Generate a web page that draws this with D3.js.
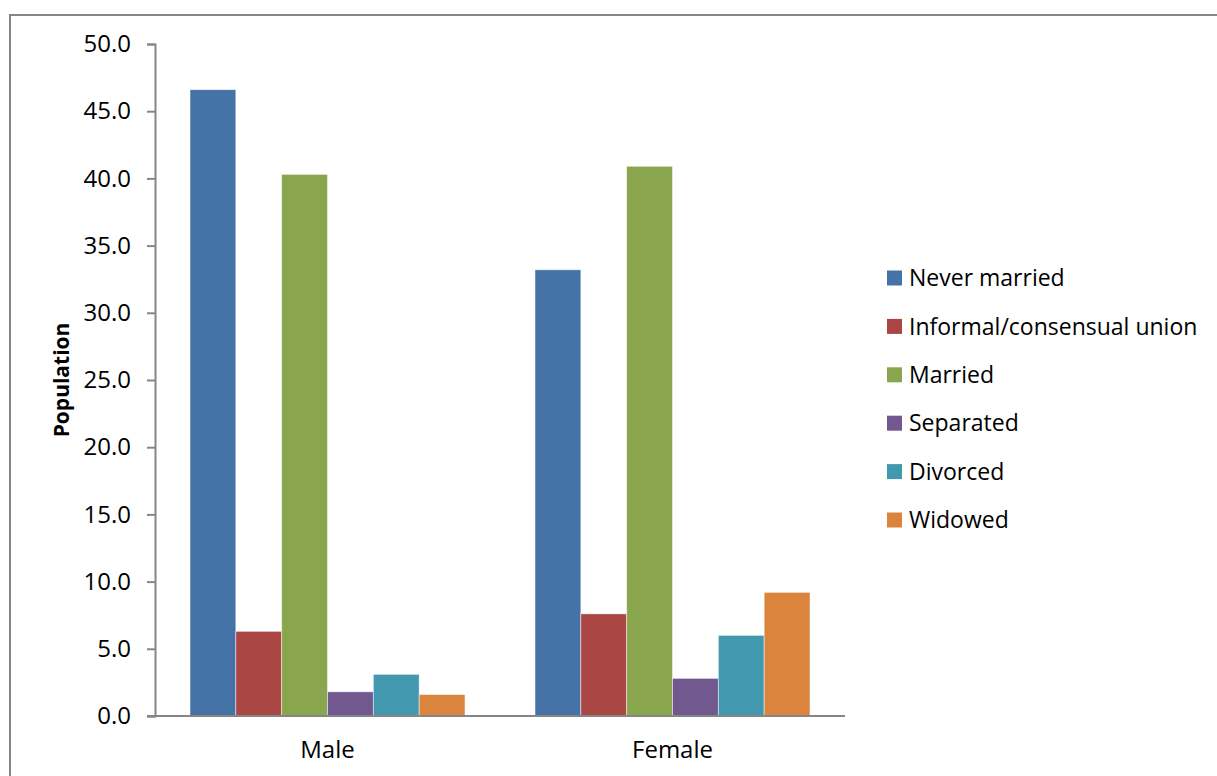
<!DOCTYPE html>
<html>
<head>
<meta charset="utf-8">
<script src="https://cdn.jsdelivr.net/npm/d3@7"></script>
<style>
  body { margin: 0; background: #fff; }
  text { font-family: "Open Sans", sans-serif; fill: #000; }
</style>
</head>
<body>
<script>
var categories = ["Male", "Female"];
var series = ["Never married", "Informal/consensual union", "Married", "Separated", "Divorced", "Widowed"];
var maleValues = [46.6, 6.3, 40.3, 1.8, 3.1, 1.6];
var femaleValues = [33.2, 7.6, 40.9, 2.8, 6.0, 9.2];
var yTicks = [0, 5, 10, 15, 20, 25, 30, 35, 40, 45, 50];
var colors = ["#4572A7", "#AA4643", "#89A54E", "#71588F", "#4198AF", "#DB843D"];

var values = [maleValues, femaleValues];

var width = 1217, height = 776;
var margin = {top: 44, left: 155, bottom: 60, right: 372};
var plot_w = width - margin.left - margin.right,
    plot_h = 716 - margin.top;

var svg = d3.select("body").append("svg")
    .attr("width", width)
    .attr("height", height);

// outer chart frame (runs off right/bottom of the image)
svg.append("rect")
    .attr("x", 10).attr("y", 15)
    .attr("width", 1300).attr("height", 900)
    .attr("fill", "none")
    .attr("stroke", "#868686")
    .attr("stroke-width", 2);

var g = svg.append("g")
    .attr("transform", "translate(" + margin.left + "," + margin.top + ")");

var x0 = d3.scaleBand().domain(categories).range([0, plot_w]).paddingInner(0.203).paddingOuter(0.1015);
var x1 = d3.scaleBand().domain(series).range([0, x0.bandwidth()]);
var y = d3.scaleLinear().domain([0, 50]).range([plot_h, 0]);

// bars
var groups = g.selectAll("g.cat")
    .data(categories)
  .enter().append("g")
    .attr("class", "cat")
    .attr("transform", function(d) { return "translate(" + x0(d) + ",0)"; });

groups.selectAll("rect")
    .data(function(d, i) { return values[i].map(function(v, j) { return {s: series[j], v: v, c: colors[j]}; }); })
  .enter().append("rect")
    .attr("x", function(d) { return x1(d.s); })
    .attr("y", function(d) { return y(d.v); })
    .attr("width", x1.bandwidth())
    .attr("height", function(d) { return plot_h - y(d.v); })
    .attr("fill", function(d) { return d.c; })
    .attr("stroke", "#ffffff")
    .attr("stroke-opacity", 0.6)
    .attr("stroke-width", 0.8);

// y axis
var yAxis = g.append("g")
    .call(d3.axisLeft(y).tickValues(yTicks).tickFormat(d3.format(".1f")).tickSize(8).tickSizeOuter(8).tickPadding(16));
yAxis.select(".domain").attr("stroke", "#868686").attr("stroke-width", 2);
yAxis.selectAll(".tick line").attr("stroke", "#868686").attr("stroke-width", 2);
yAxis.selectAll("text").style("font-size", "24px").style("font-family", "'Open Sans', sans-serif").attr("fill", "#000");

// x axis
var xAxis = g.append("g")
    .attr("transform", "translate(0," + plot_h + ")")
    .call(d3.axisBottom(x0).tickSize(0).tickPadding(25));
xAxis.select(".domain").attr("stroke", "#868686").attr("stroke-width", 2).attr("d", "M-8,0H" + plot_w);
xAxis.selectAll("text").style("font-size", "24px").style("font-family", "'Open Sans', sans-serif").attr("fill", "#000");

// y title
svg.append("text")
    .attr("transform", "translate(69," + (margin.top + plot_h / 2) + ") rotate(-90)")
    .attr("text-anchor", "middle")
    .style("font-size", "21px")
    .style("font-weight", "bold")
    .text("Population");

// legend
var legend = svg.append("g").attr("transform", "translate(887,278)");
var items = legend.selectAll("g")
    .data(series)
  .enter().append("g")
    .attr("transform", function(d, i) { return "translate(0," + (i * 48.4) + ")"; });
items.append("rect")
    .attr("x", 0).attr("y", -7.5)
    .attr("width", 15).attr("height", 15)
    .attr("fill", function(d, i) { return colors[i]; });
items.append("text")
    .attr("x", 22).attr("dy", "0.36em")
    .style("font-size", "23px")
    .text(function(d) { return d; });
</script>
</body>
</html>
